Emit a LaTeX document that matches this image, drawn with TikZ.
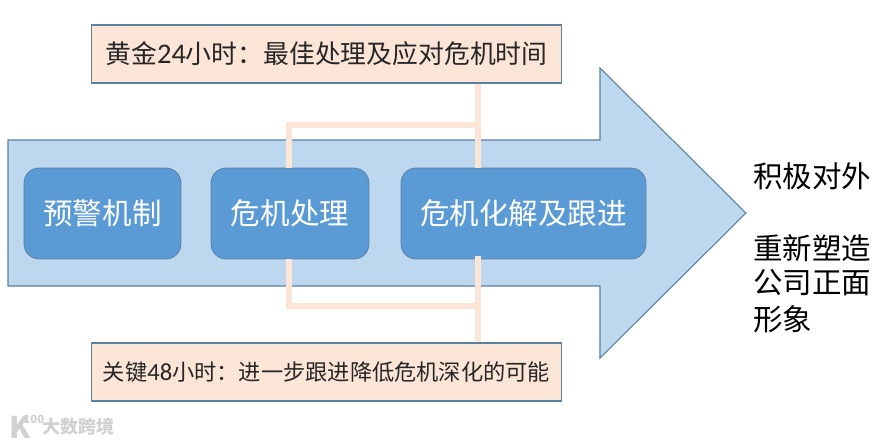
\documentclass[tikz,border=0pt]{standalone}
\usepackage{fontspec}
\setmainfont{Noto Sans CJK SC}
\newfontfamily\latinfont{Carlito}
\usetikzlibrary{calc}
\definecolor{arrowfill}{HTML}{BDD7EE}
\definecolor{edgeblue}{HTML}{5B7F9F}
\definecolor{stepfill}{HTML}{5B9BD5}
\definecolor{notefill}{HTML}{FBE5D6}
\tikzset{
  bigarrow/.style={draw=edgeblue,fill=arrowfill,line width=0.6pt},
  stepbox/.style={draw=edgeblue,fill=stepfill,rounded corners=0.3cm,minimum height=1.82cm,inner sep=0pt,text=white,font=\fontsize{16.8}{20}\selectfont},
  notebox/.style={draw=edgeblue,fill=notefill,line width=0.6pt,minimum width=9.42cm,minimum height=1.16cm,inner sep=0pt,text=black!85},
  link/.style={draw=notefill,line width=3.1pt},
  sidetext/.style={inner sep=0pt,text=black,font=\fontsize{16.8}{20}\selectfont},
  markfont/.style={inner sep=0pt,text=black!18,font=\bfseries\fontsize{10.2}{12}\selectfont}
}
\begin{document}
\begin{tikzpicture}[x=0.02cm,y=-0.02cm]
\useasboundingbox (0,0) rectangle (880,444);
% big arrow
\draw[bigarrow] (8,140) -- (600,140) -- (600,68) -- (746,213) -- (600,358) -- (600,286) -- (8,286) -- cycle;
% steps
\node[stepbox,minimum width=3.14cm] (warn) at (102.5,213.5) {预警机制};
\node[stepbox,minimum width=3.16cm] (handle) at (290,213.5) {危机处理};
\node[stepbox,minimum width=4.9cm] (resolve) at (523.5,213.5) {危机化解及跟进};
% joins
\coordinate (topleft) at (289,125);
\coordinate (topright) at (478,125);
\coordinate (botleft) at (289,306);
\coordinate (botright) at (478,306);
\coordinate (botstart) at (478,256);
\draw[link] (handle.north -| topleft) -- (topleft) -- (topright);
\draw[link] (resolve.north -| topright) -- (topright) -- (478,83);
\draw[link] (handle.south -| botleft) -- (botleft) -- (botright);
\draw[link] (botstart) -- (botright) -- (478,343);
% notes
\node[notebox,font=\fontsize{14.7}{18}\selectfont] (golden) at (326.5,54) {黄金{\latinfont\fontsize{16.2}{18}\selectfont 24}小时：最佳处理及应对危机时间};
\node[notebox,font=\fontsize{12.65}{15}\selectfont] (key) at (326.5,372) {关键{\latinfont\fontsize{14}{15}\selectfont 48}小时：进一步跟进降低危机深化的可能};
% right side
\node[sidetext,anchor=west] (outward) at (753,176) {积极对外};
\node[sidetext,anchor=west] (rebuild) at (753,248) {重新塑造};
\node[sidetext,anchor=west] (company) at (753,283) {公司正面};
\node[sidetext,anchor=west] (image) at (753,319) {形象};
% watermark
\node[markfont,anchor=west] (logo) at (9,427) {\fontsize{17}{17}\selectfont K};
\node[markfont,anchor=west] (hundred) at (23,419) {\fontsize{6.5}{7}\selectfont 100};
\node[markfont,anchor=west] (mark) at (42,427) {大数跨境};
\end{tikzpicture}
\end{document}
